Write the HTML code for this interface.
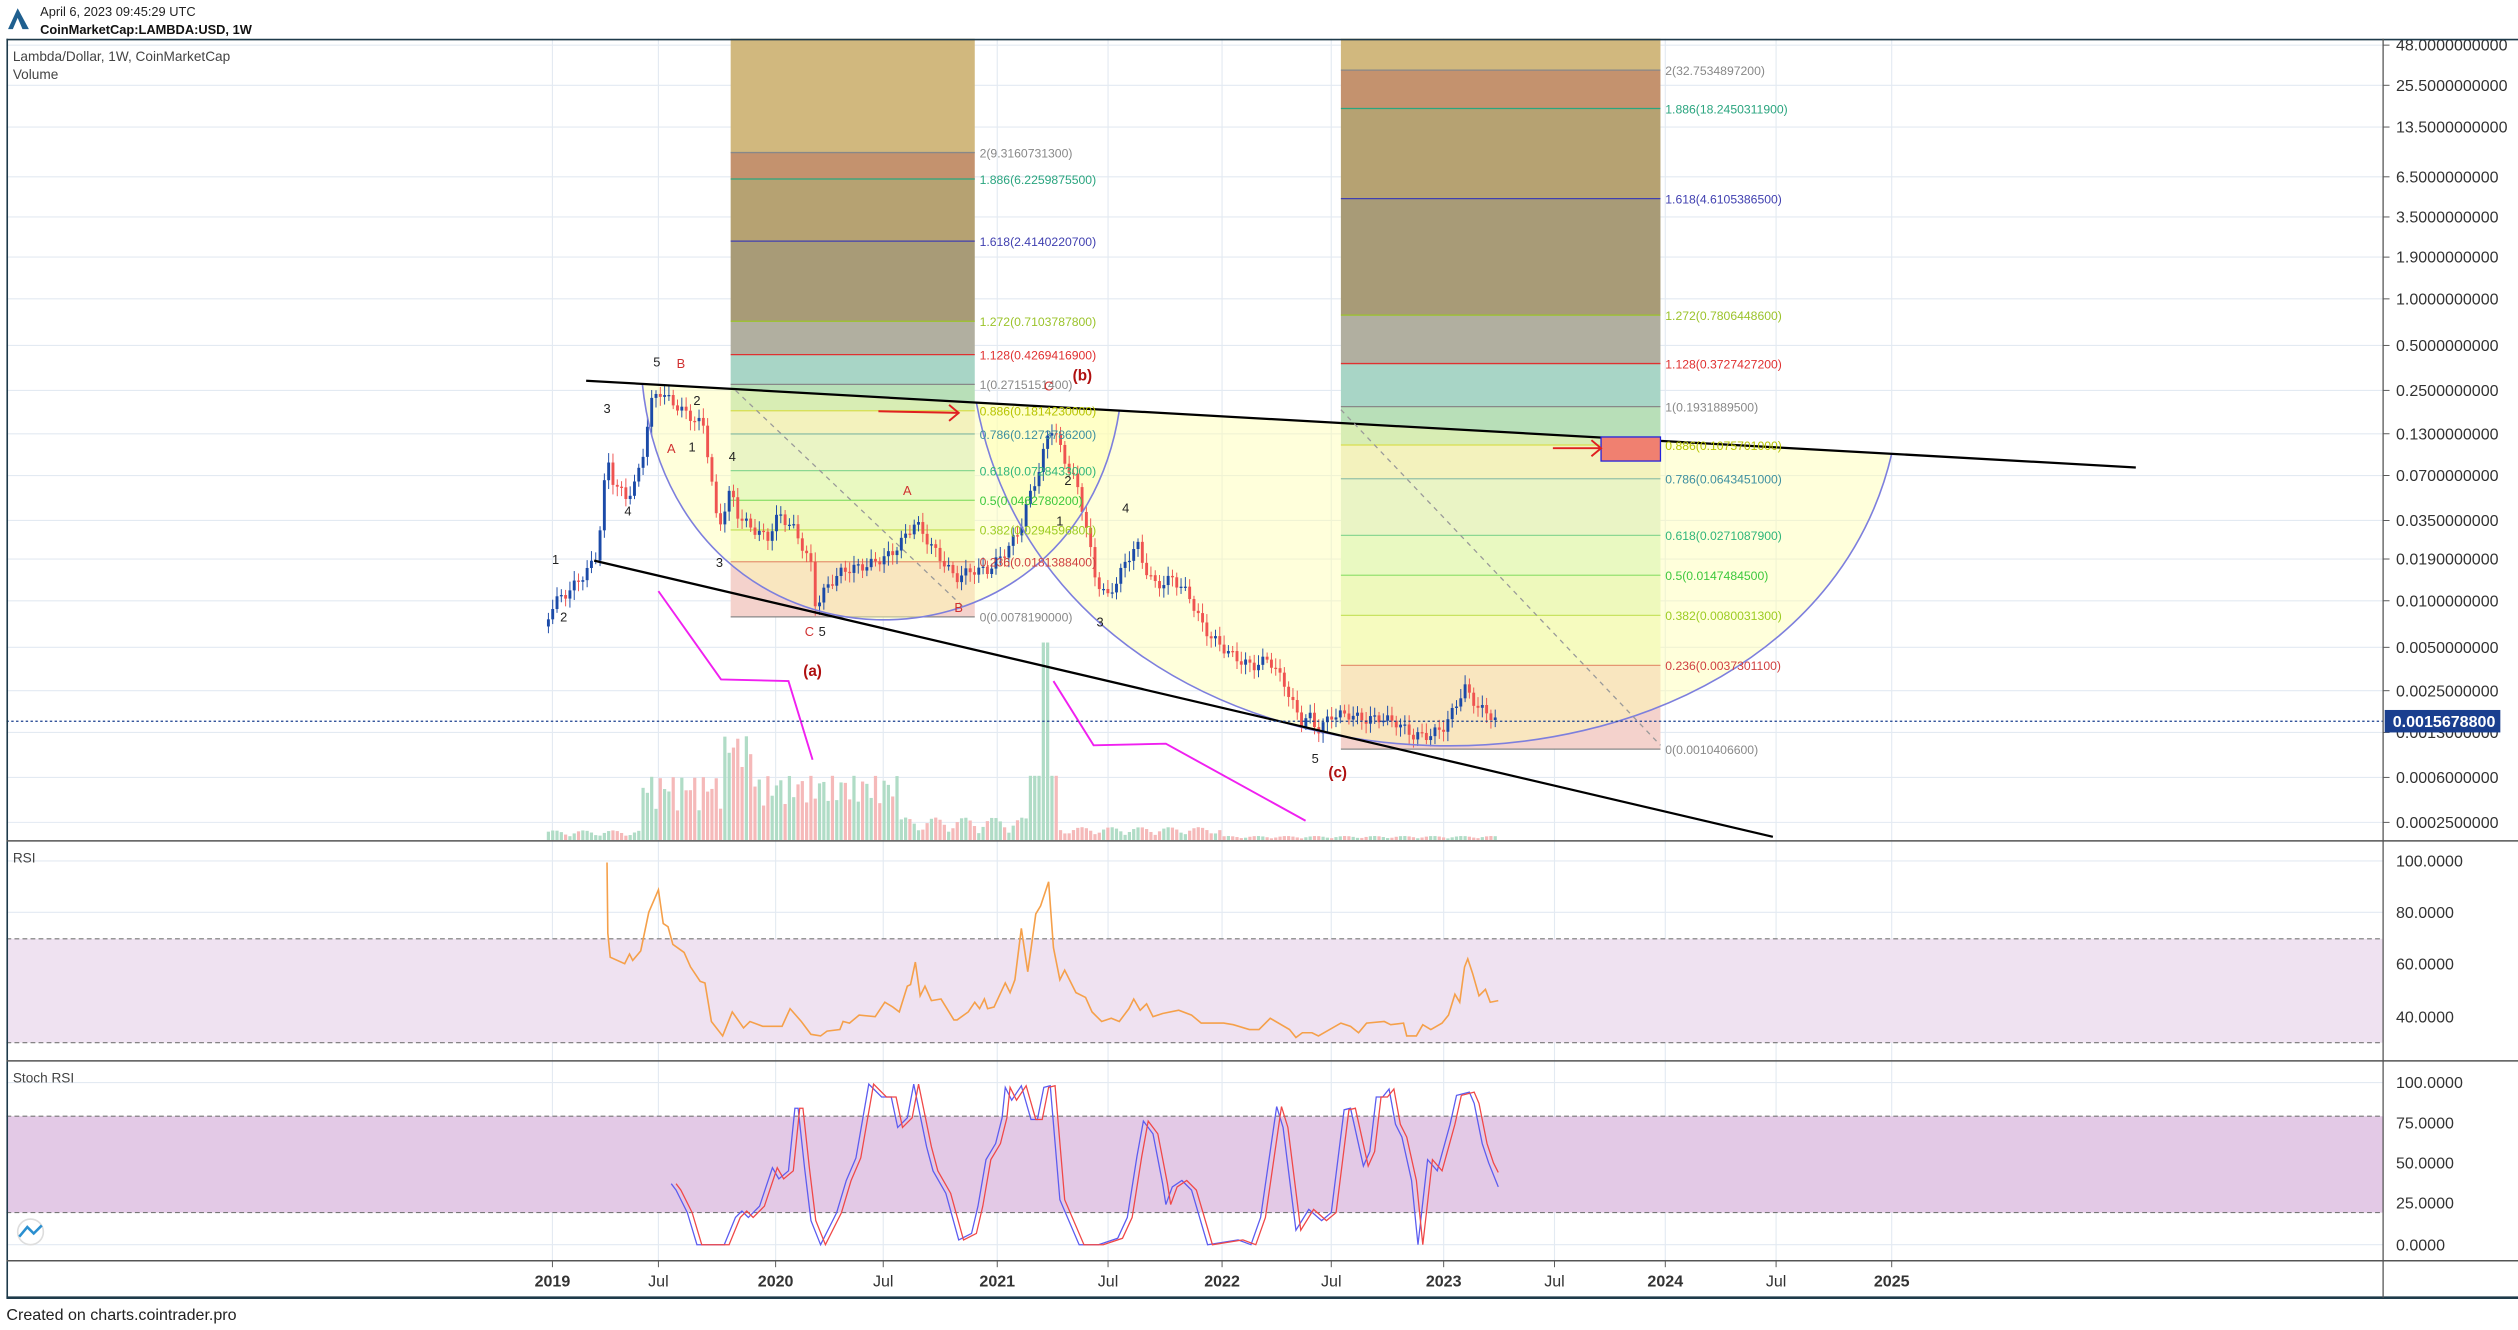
<!DOCTYPE html>
<html><head><meta charset="utf-8"><style>
html,body{margin:0;padding:0;background:#fff;}
svg{display:block;font-family:"Liberation Sans",sans-serif;}
</style></head><body>
<svg id="s" width="2518" height="1330" viewBox="0 0 1568 828" xmlns="http://www.w3.org/2000/svg">
<rect width="1568" height="828" fill="#fff"/>
<g id="grid" stroke="#e3eaf2" stroke-width="0.7"></g>
<g id="fib"></g>
<g id="yel"></g>
<g id="vol"></g>
<g id="cand"></g>
<g id="ov"></g>
<g id="ind"></g>
<g id="txt"></g>
</svg>
<script>
const NS="http://www.w3.org/2000/svg";
function el(p,t,a,tx){const e=document.createElementNS(NS,t);for(const k in a)e.setAttribute(k,a[k]);if(tx!==undefined)e.textContent=tx;document.getElementById(p).appendChild(e);return e;}
const Y=p=>186-94*Math.log10(p);
el('txt','path',{d:'M5,18 L11,5 L18,18 L14,18 L11,11 L8,18Z',fill:'#1f5f8f'});
el('txt','text',{x:25,y:10,'font-size':8,fill:'#222'},'April 6, 2023 09:45:29 UTC');
el('txt','text',{x:25,y:21,'font-size':8,'font-weight':'bold',fill:'#111'},'CoinMarketCap:LAMBDA:USD, 1W');
el('txt','text',{x:4,y:822,'font-size':10,fill:'#222'},'Created on charts.cointrader.pro');
const yl=[[28,'48.0000000000'],[53,'25.5000000000'],[79,'13.5000000000'],[110,'6.5000000000'],[135,'3.5000000000'],[160,'1.9000000000'],[186,'1.0000000000'],[215,'0.5000000000'],[243,'0.2500000000'],[270,'0.1300000000'],[296,'0.0700000000'],[324,'0.0350000000'],[348,'0.0190000000'],[374,'0.0100000000'],[403,'0.0050000000'],[430,'0.0025000000'],[456,'0.0013000000'],[484,'0.0006000000'],[512,'0.0002500000']];
yl.forEach(a=>{el('grid','line',{x1:4,x2:1484,y1:a[0],y2:a[0]});el('txt','text',{x:1492,y:a[0]+3.5,'font-size':10,fill:'#333'},a[1]);el('txt','line',{x1:1484,x2:1488,y1:a[0],y2:a[0],stroke:'#555','stroke-width':0.6});});
const xl=[[344,'2019',1],[410,'Jul'],[483,'2020',1],[550,'Jul'],[621,'2021',1],[690,'Jul'],[761,'2022',1],[829,'Jul'],[899,'2023',1],[968,'Jul'],[1037,'2024',1],[1106,'Jul'],[1178,'2025',1]];
xl.forEach(a=>{el('grid','line',{x1:a[0],x2:a[0],y1:24,y2:785});el('txt','text',{x:a[0],y:801,'font-size':10,'text-anchor':'middle',fill:'#333','font-weight':a[2]?'bold':'normal'},a[1]);el('txt','line',{x1:a[0],x2:a[0],y1:785,y2:789,stroke:'#555','stroke-width':0.6});});
[536,568,600,633].forEach(y=>el('grid','line',{x1:4,x2:1484,y1:y,y2:y}));
[674,699,724,749,775].forEach(y=>el('grid','line',{x1:4,x2:1484,y1:y,y2:y}));
const cols=['#d1b87e','#c4926e','#b6a272','#a89b77','#b1afa0','#a8d5c6','#b8dfb8','#e9e8c8','#d9ecd8','#d8f4d0','#e1f5c6','#eef7cc','#f4d2cc'];
const lc=['#888','#2aa57f','#4040b0','#9bc32a','#e03030','#888','#b7c400','#3d8fa0','#2fb67a','#3cc83c','#9ccc22','#d04040','#888'];
const lv=['2','1.886','1.618','1.272','1.128','1','0.886','0.786','0.618','0.5','0.382','0.236','0'];
function fib(x1,x2,vals){let prev=24;vals.forEach((v,i)=>{const y=Y(v);el('fib','rect',{x:x1,y:prev,width:x2-x1,height:y-prev,fill:cols[i]});prev=y;});
 vals.forEach((v,i)=>{const y=Y(v);el('fib','line',{x1:x1,x2:x2,y1:y,y2:y,stroke:lc[i],'stroke-width':0.8});el('txt','text',{x:x2+3,y:y+3,'font-size':7.6,fill:lc[i]},lv[i]+'('+v.toFixed(10)+')');});}
fib(455,607,[9.31607313,6.22598755,2.41402207,0.7103787800,0.42694169,0.27151514,0.181423,0.12737862,0.0728433,0.04627802,0.02945968,0.01813884,0.007819]);
fib(835,1034,[32.7534897200,18.24503119,4.61053865,0.78064486,0.37274272,0.19318895,0.1075701,0.0643451,0.02710879,0.01474845,0.00800313,0.00373011,0.00104066]);
const ty=x=>237+(x-365)*0.05596;
el('yel','path',{d:`M400,${ty(400)} C420,432 670,432 697,${ty(697)} Z`,fill:'#ffffb0','fill-opacity':0.45});
el('yel','path',{d:`M608,${ty(608)} C660,530 1120,530 1178,${ty(1178)} Z`,fill:'#ffffb0','fill-opacity':0.45});
el('ov','path',{d:`M400,${ty(400)} C420,432 670,432 697,${ty(697)}`,fill:'none',stroke:'#7d7fdd','stroke-width':1});
el('ov','path',{d:`M608,${ty(608)} C660,530 1120,530 1178,${ty(1178)}`,fill:'none',stroke:'#7d7fdd','stroke-width':1});
const kp=[[341,385],[345,375],[352,370],[360,362],[368,352],[372,345],[378,285],[382,300],[390,310],[396,300],[400,285],[405,252],[410,243],[418,250],[428,258],[438,265],[442,290],[447,330],[455,305],[460,322],[470,330],[478,335],[485,320],[495,330],[505,352],[508,378],[515,365],[525,355],[540,352],[555,345],[563,335],[570,325],[580,340],[595,360],[605,355],[615,355],[625,345],[635,330],[640,312],[648,290],[652,272],[656,265],[662,285],[670,300],[676,325],[682,360],[690,372],[700,352],[708,338],[712,352],[720,365],[730,360],[740,370],[750,392],[760,402],[770,410],[780,415],[790,410],[800,426],[810,450],[815,445],[820,455],[830,445],[840,445],[850,448],[860,447],[870,450],[880,458],[890,458],[900,452],[907,438],[912,428],[920,440],[928,445],[933,450]];
function interp(k,x){for(let i=0;i<k.length-1;i++){if(x>=k[i][0]&&x<=k[i+1][0]){const t=(x-k[i][0])/(k[i+1][0]-k[i][0]);return k[i][1]+t*(k[i+1][1]-k[i][1]);}}return k[k.length-1][1];}
let prevC=390;
for(let x=341.5;x<=933;x+=2.68){
 const c=interp(kp,x)+Math.sin(x*1.7)*3;const o=prevC;
 const up=c<o;const col=up?'#1b4aa8':'#ef5350';
 const hi=Math.min(o,c)-2-Math.abs(Math.sin(x*0.9))*4,lo=Math.max(o,c)+2+Math.abs(Math.cos(x*1.3))*4;
 el('cand','line',{x1:x,x2:x,y1:hi,y2:lo,stroke:col,'stroke-width':0.6});
 el('cand','rect',{x:x-0.9,y:Math.min(o,c),width:1.8,height:Math.max(Math.abs(c-o),0.8),fill:col});
 let h=2;
 if(x<400)h=2+Math.abs(Math.sin(x))*4;else if(x<560)h=18+Math.abs(Math.sin(x*0.7))*22+(x>450&&x<470?25:0);else if(x<640)h=4+Math.abs(Math.sin(x))*10;else if(x<660)h=(x>648&&x<655)?123:40;else if(x<760)h=3+Math.abs(Math.sin(x))*5;else h=1+Math.abs(Math.sin(x))*1.5;
 el('vol','rect',{x:x-1,y:523-h,width:2,height:h,fill:up?'#b0dcc6':'#f5b9b9'});
 prevC=c;
}
el('ov','line',{x1:365,y1:237,x2:1330,y2:291,stroke:'#000','stroke-width':1.4});
el('ov','line',{x1:370,y1:349,x2:1104,y2:521,stroke:'#000','stroke-width':1.4});
el('ov','line',{x1:458,y1:243,x2:600,y2:378,stroke:'#999','stroke-width':0.8,'stroke-dasharray':'3,3'});
el('ov','line',{x1:835,y1:255,x2:1034,y2:464,stroke:'#999','stroke-width':0.8,'stroke-dasharray':'3,3'});
el('ov','polyline',{points:'410,368 449,423 491,424 506,473',fill:'none',stroke:'#f020f0','stroke-width':1.2});
el('ov','polyline',{points:'656,424 681,464 726,463 813,511',fill:'none',stroke:'#f020f0','stroke-width':1.2});
el('ov','rect',{x:997,y:272,width:37,height:15,fill:'#f08070',stroke:'#2222dd','stroke-width':0.8});
el('ov','path',{d:'M547,256 L597,257 M591,252 L597,257 L591,262',fill:'none',stroke:'#e02020','stroke-width':1.2});
el('ov','path',{d:'M967,279 L997,279 M991,274 L997,279 L991,284',fill:'none',stroke:'#e02020','stroke-width':1.2});
el('ov','line',{x1:4,x2:1484,y1:449,y2:449,stroke:'#1a3f8f','stroke-width':0.8,'stroke-dasharray':'1.5,1.5'});
el('txt','rect',{x:1485,y:442,width:72,height:14,fill:'#1a3f8f'});
el('txt','text',{x:1490,y:452.5,'font-size':10,'font-weight':'bold',fill:'#fff'},'0.0015678800');
const wl=[[409,228,'5'],[424,229,'B',1],[378,257,'3'],[391,321,'4'],[346,351,'1'],[351,387,'2'],[418,282,'A',1],[431,281,'1'],[434,252,'2'],[456,287,'4'],[448,353,'3'],[504,396,'C',1],[512,396,'5'],[565,308,'A',1],[597,381,'B',1],[665,302,'2'],[660,327,'1'],[701,319,'4'],[685,390,'3'],[819,475,'5'],[653,243,'C',1]];
wl.forEach(a=>el('txt','text',{x:a[0],y:a[1],'font-size':8,'text-anchor':'middle',fill:a[3]?'#d03030':'#222'},a[2]));
[[506,421,'(a)'],[674,237,'(b)'],[833,484,'(c)']].forEach(a=>el('txt','text',{x:a[0],y:a[1],'font-size':9.5,'font-weight':'bold','text-anchor':'middle',fill:'#b01010'},a[2]));
el('txt','text',{x:8,y:38,'font-size':8.5,fill:'#444'},'Lambda/Dollar, 1W, CoinMarketCap');
el('txt','text',{x:8,y:49,'font-size':8.5,fill:'#444'},'Volume');
const ry=v=>536+(100-v)*1.617;
el('ind','rect',{x:4,y:ry(70),width:1480,height:ry(30)-ry(70),fill:'#efe2f1'});
[70,30].forEach(v=>el('ind','line',{x1:4,x2:1484,y1:ry(v),y2:ry(v),stroke:'#777','stroke-width':0.7,'stroke-dasharray':'3,2'}));
const rk=[[378,537],[378.5,581],[380,596],[389,600],[392,594],[394,598],[399,592],[404,568],[410,554],[413,575],[416,577],[419,588],[426,593],[430,602],[436,611],[439,612],[443,636],[450,645],[456,630],[463,640],[467,636],[475,639],[487,639],[492,628],[499,636],[505,644],[511,645],[515,642],[523,641],[525,636],[529,637],[535,632],[545,633],[551,624],[556,627],[560,630],[565,614],[567,613],[570,599],[573,620],[576,614],[580,623],[586,622],[594,635],[596,635],[603,630],[607,624],[610,628],[613,622],[615,628],[619,627],[626,612],[629,618],[632,610],[636,578],[640,605],[642,591],[645,569],[648,564],[653,549],[656,590],[660,610],[663,604],[670,618],[676,621],[680,630],[686,636],[692,634],[697,636],[703,628],[706,622],[710,629],[714,625],[718,633],[724,631],[734,629],[742,632],[748,637],[762,637],[768,638],[778,641],[784,641],[791,634],[803,641],[807,646],[811,643],[817,643],[821,645],[835,637],[841,639],[846,643],[851,637],[862,636],[866,638],[874,637],[876,645],[882,645],[886,638],[891,641],[898,637],[902,632],[906,619],[909,624],[912,602],[914,597],[917,606],[921,620],[925,616],[928,624],[933,623]];
el('ind','polyline',{points:rk.map(p=>p[0]+','+p[1]).join(' '),fill:'none',stroke:'#f5a04a','stroke-width':1});
const sy=v=>775-v*1.0;
el('ind','rect',{x:4,y:sy(80),width:1480,height:sy(20)-sy(80),fill:'#e3c9e6'});
[80,20].forEach(v=>el('ind','line',{x1:4,x2:1484,y1:sy(v),y2:sy(v),stroke:'#777','stroke-width':0.7,'stroke-dasharray':'3,2'}));
const sk=[[418,38],[421,34],[428,20],[434,0],[451,0],[458,17],[462,21],[466,17],[473,24],[481,48],[485,41],[491,46],[495,85],[497,85],[501,48],[505,15],[511,0],[521,20],[527,40],[533,54],[541,100],[549,92],[555,92],[559,73],[565,79],[569,100],[577,61],[581,46],[589,32],[597,3],[605,7],[609,24],[614,53],[620,63],[624,79],[626,98],[630,90],[636,99],[642,78],[646,78],[650,98],[654,99],[660,28],[672,0],[684,0],[696,4],[702,17],[708,55],[712,77],[718,69],[724,38],[726,25],[730,36],[736,40],[742,34],[752,0],[771,3],[779,0],[785,17],[795,86],[799,73],[807,9],[815,22],[823,15],[829,20],[837,84],[841,85],[849,49],[853,58],[857,92],[861,92],[865,97],[869,75],[873,67],[879,40],[883,0],[889,53],[895,46],[903,75],[907,93],[915,95],[918,88],[923,63],[927,51],[933,36]];
el('ind','polyline',{points:sk.map(p=>p[0]+','+sy(p[1])).join(' '),fill:'none',stroke:'#5c5cf0','stroke-width':0.8});
const rl=[];sk.forEach(p=>{if(p[0]+3<=933)rl.push((p[0]+3)+','+sy(p[1]));});rl.push('933,'+sy(45));
el('ind','polyline',{points:rl.join(' '),fill:'none',stroke:'#f04848','stroke-width':0.8});
[[536,'100.0000'],[568,'80.0000'],[600,'60.0000'],[633,'40.0000']].forEach(a=>el('txt','text',{x:1492,y:a[0]+3.5,'font-size':10,fill:'#333'},a[1]));
[[674,'100.0000'],[699,'75.0000'],[724,'50.0000'],[749,'25.0000'],[775,'0.0000']].forEach(a=>el('txt','text',{x:1492,y:a[0]+3.5,'font-size':10,fill:'#333'},a[1]));
el('txt','text',{x:8,y:537,'font-size':8.5,fill:'#444'},'RSI');
el('txt','text',{x:8,y:674,'font-size':8.5,fill:'#444'},'Stoch RSI');
el('txt','circle',{cx:19,cy:767,r:8,fill:'#fff',stroke:'#ddd'});
el('txt','path',{d:'M12,770 L17,764 L21,768 L26,763',fill:'none',stroke:'#2a8fd0','stroke-width':1.6});
el('txt','line',{x1:4,x2:1568,y1:24.5,y2:24.5,stroke:'#1e3a4a','stroke-width':1});
el('txt','line',{x1:4.5,x2:4.5,y1:24,y2:808,stroke:'#1e3a4a','stroke-width':1});
el('txt','line',{x1:4,x2:1568,y1:808,y2:808,stroke:'#1e3a4a','stroke-width':1.6});
el('txt','line',{x1:1484,x2:1484,y1:24,y2:808,stroke:'#555','stroke-width':0.8});
[523.5,660.5,785].forEach(y=>el('txt','line',{x1:4,x2:1568,y1:y,y2:y,stroke:'#555','stroke-width':0.9}));
</script>
</body></html>
